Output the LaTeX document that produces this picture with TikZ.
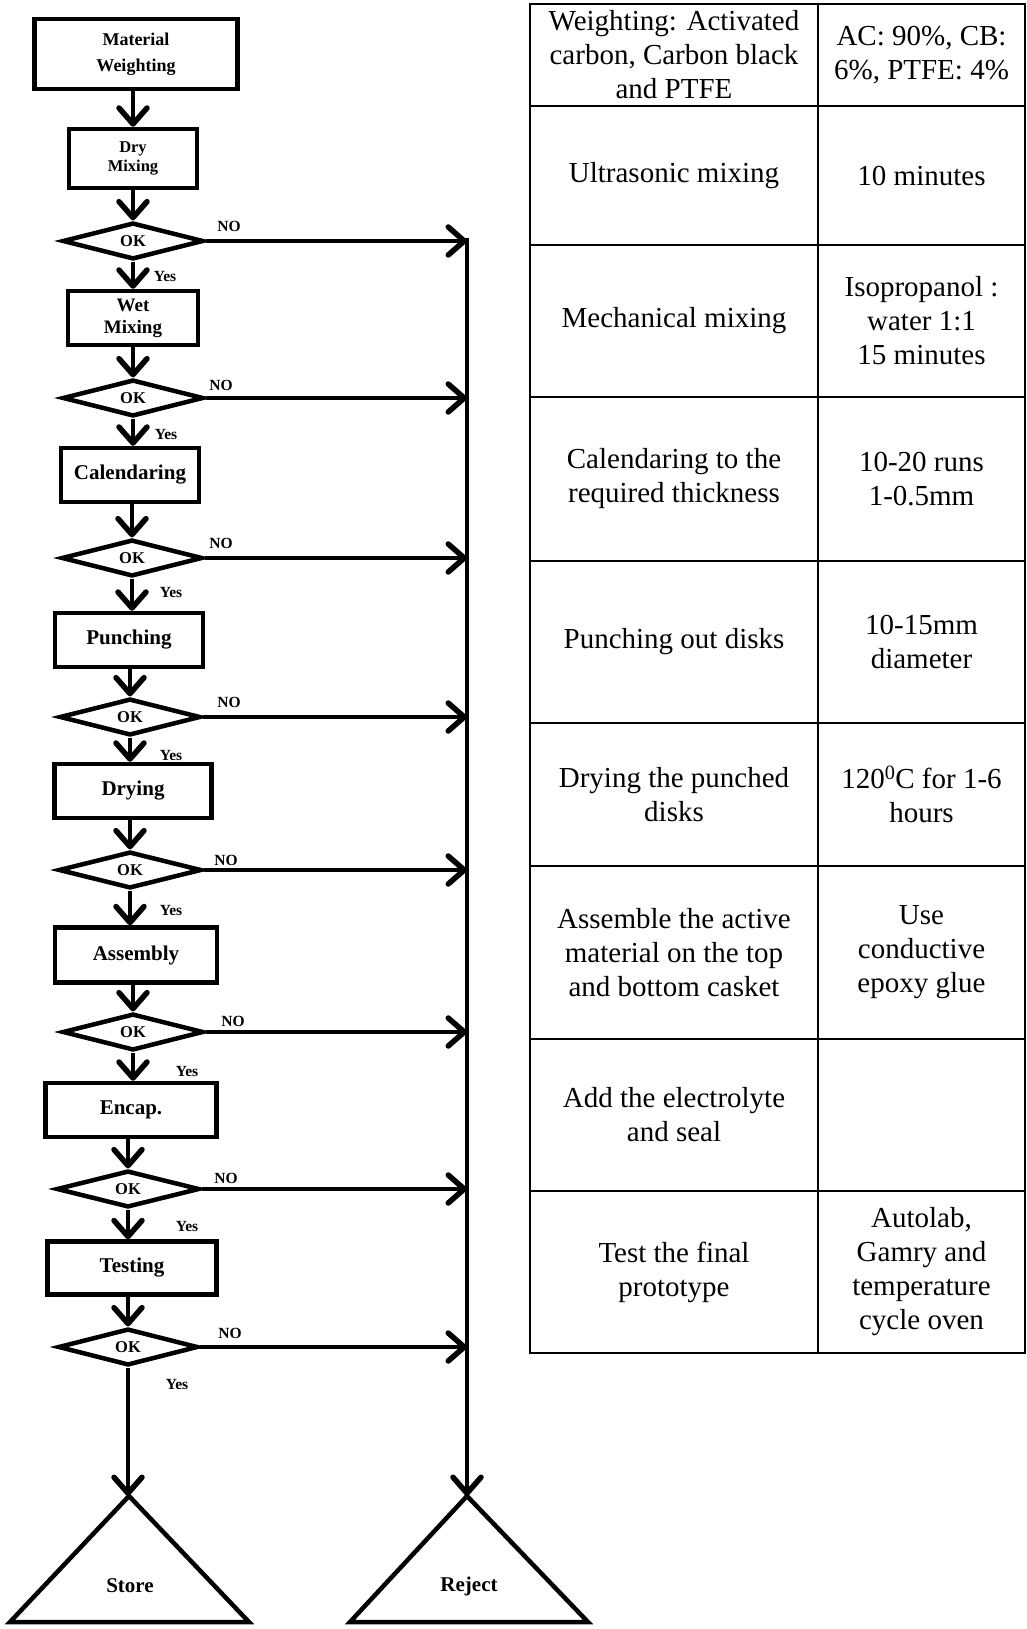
\documentclass[tikz,border=0pt]{standalone}
\usepackage{fontspec}
\setmainfont{Liberation Serif}
\usetikzlibrary{arrows.meta,shapes.geometric}
\begin{document}
\begin{tikzpicture}[x=1pt,y=-1pt,
 box/.style={draw,line width=4.5pt,minimum height=54pt,inner sep=0pt,align=center,font=\fontsize{21}{23}\selectfont\bfseries},
 dec/.style={draw,diamond,line width=4.5pt,minimum width=141pt,minimum height=36pt,inner sep=0pt,font=\fontsize{16.5}{18}\selectfont\bfseries},
 lab/.style={font=\fontsize{15.5}{17}\selectfont\bfseries,inner sep=0pt},
 flow/.style={line width=4.5pt,-{Straight Barb[length=16pt,width=28pt,line width=5.5pt 0,round]}},
 cell/.style={align=center,font=\fontsize{29}{34}\selectfont,inner sep=0pt},
 tri/.style={line width=4.5pt,line join=miter},
 tab/.style={line width=2.5pt},
]
\useasboundingbox[fill=white] (0,0) rectangle (1027,1629);

% flowchart nodes
\node[box,minimum width=203pt,minimum height=70pt,font=\fontsize{18}{26}\selectfont\bfseries] (mw) at (136,54) {Material\\Weighting};
\node[box,minimum width=128pt,minimum height=59pt,font=\fontsize{16.5}{19}\selectfont\bfseries] (dry) at (133,158.5) {Dry\\Mixing};
\node[dec] (ok1) at (133,241) {OK};
\node[box,minimum width=130pt,font=\fontsize{19}{22}\selectfont\bfseries] (wet) at (133,318) {Wet\\Mixing};
\node[dec] (ok2) at (133,398) {OK};
\node[box,minimum width=138pt] (cal) at (130,475) {Calendaring};
\node[dec,minimum height=34pt] (ok3) at (132,558) {OK};
\node[box,minimum width=148pt] (pun) at (129,640) {Punching};
\node[dec,minimum height=34pt] (ok4) at (130,717) {OK};
\node[box,minimum width=157pt] (dryg) at (133,791) {Drying};
\node[dec,minimum height=34pt,minimum width=143pt] (ok5) at (130,870) {OK};
\node[box,minimum width=162pt,minimum height=55pt] (asm) at (136,955) {Assembly};
\node[dec] (ok6) at (133,1032) {OK};
\node[box,minimum width=171pt] (enc) at (131,1110) {Encap.};
\node[dec,minimum width=143pt] (ok7) at (128,1189) {OK};
\node[box,minimum width=169pt,minimum height=53pt] (tst) at (132,1268) {Testing};
\node[dec,minimum width=140pt] (ok8) at (128,1347) {OK};

% terminals
\coordinate (storetop) at (129,1496);
\coordinate (rejtop) at (467,1496);
\coordinate (rtop) at (467,238);
\draw[tri] (storetop) -- (249,1622) -- (10,1622) -- cycle;
\draw[tri] (rejtop) -- (588,1622) -- (350,1622) -- cycle;
\node[font=\fontsize{21}{23}\selectfont\bfseries] (store) at (130,1586) {Store};
\node[font=\fontsize{21}{23}\selectfont\bfseries] (reject) at (469,1586) {Reject};

% main flow
\draw[flow] (mw.south -| dry.north) -- (dry.north);
\draw[flow] (dry.south) -- (ok1.north);
\draw[flow] (ok1.south) -- (wet.north -| ok1.south);
\draw[flow] (wet.south) -- (ok2.north -| wet.south);
\draw[flow] (ok2.south) -- (cal.north -| ok2.south);
\draw[flow] (cal.south -| ok3.north) -- (ok3.north);
\draw[flow] (ok3.south) -- (pun.north -| ok3.south);
\draw[flow] (pun.south -| ok4.north) -- (ok4.north);
\draw[flow] (ok4.south) -- (dryg.north -| ok4.south);
\draw[flow] (dryg.south -| ok5.north) -- (ok5.north);
\draw[flow] (ok5.south) -- (asm.north -| ok5.south);
\draw[flow] (asm.south -| ok6.north) -- (ok6.north);
\draw[flow] (ok6.south) -- (enc.north -| ok6.south);
\draw[flow] (enc.south -| ok7.north) -- (ok7.north);
\draw[flow] (ok7.south) -- (tst.north -| ok7.south);
\draw[flow] (tst.south -| ok8.north) -- (ok8.north);
\draw[flow] (ok8.south) -- (ok8.south |- storetop);

% reject flow
\draw[flow] (rtop) -- (rejtop);
\foreach \k in {1,...,8}{
  \draw[flow] (ok\k.east) -- (ok\k.east -| rtop);
}

% labels
\node[lab] (no1) at (229,226) {NO};
\node[lab] (no2) at (221,385) {NO};
\node[lab] (no3) at (221,543) {NO};
\node[lab] (no4) at (229,702) {NO};
\node[lab] (no5) at (226,860) {NO};
\node[lab] (no6) at (233,1021) {NO};
\node[lab] (no7) at (226,1178) {NO};
\node[lab] (no8) at (230,1333) {NO};
\node[lab] (y1) at (165,277) {Yes};
\node[lab] (y2) at (166,434) {Yes};
\node[lab] (y3) at (171,592) {Yes};
\node[lab] (y4) at (171,755) {Yes};
\node[lab] (y5) at (171,910) {Yes};
\node[lab] (y6) at (187,1071) {Yes};
\node[lab] (y7) at (187,1226) {Yes};
\node[lab] (y8) at (177,1384) {Yes};

% table
\draw[tab] (530,4) rectangle (1025,1353);
\draw[tab] (818,4) -- (818,1353);
\foreach \yy in {106,245,397,561,723,866,1039,1191}{
  \draw[tab] (530,\yy) -- (1025,\yy);
}
\node[cell] (l1) at (674,55) {Weighting: Activated\\carbon, Carbon black\\and PTFE};
\node[cell] (r1) at (921.5,55) {AC: 90\%, CB:\\6\%, PTFE: 4\%};
\node[cell] (l2) at (674,175.5) {Ultrasonic mixing};
\node[cell] (r2) at (921.5,175.5) {10 minutes};
\node[cell] (l3) at (674,321) {Mechanical mixing};
\node[cell] (r3) at (921.5,321) {Isopropanol :\\water 1:1\\15 minutes};
\node[cell] (l4) at (674,479) {Calendaring to the\\required thickness};
\node[cell] (r4) at (921.5,479) {10-20 runs\\1-0.5mm};
\node[cell] (l5) at (674,642) {Punching out disks};
\node[cell] (r5) at (921.5,642) {10-15mm\\diameter};
\node[cell] (l6) at (674,794.5) {Drying the punched\\disks};
\node[cell] (r6) at (921.5,794.5) {120\textsuperscript{0}C for 1-6\\hours};
\node[cell] (l7) at (674,952.5) {Assemble the active\\material on the top\\and bottom casket};
\node[cell] (r7) at (921.5,952.5) {Use\\conductive\\epoxy glue};
\node[cell] (l8) at (674,1115) {Add the electrolyte\\and seal};
\node[cell] (l9) at (674,1272) {Test the final\\prototype};
\node[cell] (r9) at (921.5,1272) {Autolab,\\Gamry and\\temperature\\cycle oven};
\end{tikzpicture}
\end{document}
